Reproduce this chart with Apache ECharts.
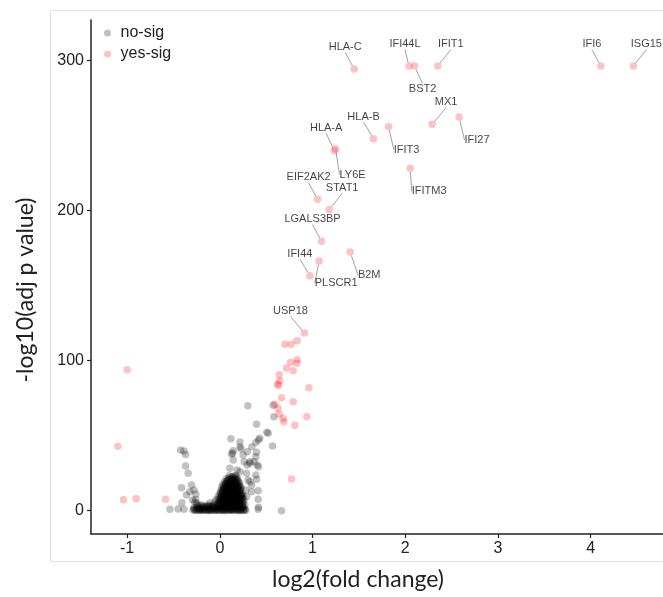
<!DOCTYPE html>
<html><head><meta charset="utf-8">
<script src="https://cdn.jsdelivr.net/npm/echarts@6/dist/echarts.min.js"></script>
<style>html,body{margin:0;padding:0;background:#fff}#c{width:663px;height:597px}</style>
</head><body><div id="c"></div>
<script>
// ---- data ----
const xTicks = [-1, 0, 1, 2, 3, 4];
const yTicks = [0, 100, 200, 300];

const labeledGenes = ['HLA-C','IFI44L','BST2','IFIT1','IFI6','ISG15','MX1','IFI27','HLA-B','IFIT3','HLA-A','LY6E','IFITM3','EIF2AK2','STAT1','LGALS3BP','IFI44','PLSCR1','B2M','USP18'];
const labeledX = [1.449,2.04,2.10,2.35,4.11,4.46,2.29,2.58,1.658,1.82,1.233,1.248,2.053,1.054,1.179,1.097,0.971,1.071,1.406,0.913];
const labeledY = [294.1,296,296,296,296,296,257.3,262.1,247.7,255.7,239.7,241,228,207.3,200.4,179.4,156.5,166.2,172.2,118.3];

const sigOther = [
 [0.834,113.2],[0.769,110.8],[0.701,110.8],[0.834,100.5],[0.762,98.8],[0.831,98.1],[0.719,95.0],[0.791,93.2],
 [0.64,90.5],[0.647,86.6],[0.622,84.4],[0.633,83.5],[0.96,81.9],[0.665,75.2],[0.791,72.6],[0.593,70.8],
 [0.629,68.2],[0.64,64.2],[0.939,62.6],[0.683,61.5],[0.69,59.3],[0.809,56.9],[0.773,21.1],[-0.586,7.6],
 [-1.0,93.9],[-1.10,42.9],[-1.039,7.3],[-0.903,8.0]
];

const nonSigScatter = [
 [0.302,69.9],[0.575,70.2],[0.583,62.6],[0.396,57.5],[0.507,52.2],[0.521,51.5],[0.43,48.2],[0.568,43.1],
 [0.119,47.9],[0.216,45.7],[0.388,45.5],[0.417,47.1],[0.345,42.6],[0.216,42.6],[0.295,39.3],[0.227,41.3],
 [0.144,39.9],[0.137,38.2],[0.396,38.9],[0.388,36.0],[0.126,37.7],[0.251,37.1],[0.144,33.8],[0.262,32.6],
 [0.324,32.6],[0.37,32.6],[0.324,31.6],[0.403,30.4],[0.417,29.3],[0.295,30.4],[0.108,28.2],[0.187,27.1],
 [0.216,26.0],[0.288,24.9],[0.388,23.8],[0.18,22.6],[0.305,20.4],[0.396,20.9],[0.324,19.3],[0.342,17.1],
 [0.413,13.3],[0.342,12.7],[0.28,13.8],[0.288,9.3],[0.413,7.6],[0.417,2.3],[0.665,0],[0.413,0.9],
 [-0.424,40.4],[-0.388,39.7],[-0.37,37.5],[-0.37,29.8],[-0.342,24.9],[-0.305,17.1],[-0.413,15.3],[-0.36,10.5],
 [-0.41,5.3],[-0.539,1.0],[-0.45,1.1],[-0.388,1.0],[-0.324,12.7],[-0.28,13.8],[-0.259,11.1],[-0.295,7.1],[-0.25,4.9]
];

const nonSigCore = [
 [-0.29,0.4],[-0.27,0.8],[-0.25,0.3],[-0.23,0.6],[-0.21,0.2],[-0.19,0.9],[-0.17,0.5],[-0.15,0.3],[-0.13,0.7],[-0.11,0.4],
 [-0.09,0.8],[-0.07,0.2],[-0.05,0.6],[-0.03,0.9],[-0.01,0.3],[0.01,0.7],[0.03,0.4],[0.05,0.9],[0.07,0.5],[0.09,0.2],
 [0.11,0.8],[0.13,0.4],[0.15,0.6],[0.17,0.3],[0.19,0.9],[0.21,0.5],[0.23,0.7],[0.25,0.2],[0.27,0.6],
 [-0.28,1.9],[-0.25,2.3],[-0.22,1.6],[-0.19,2.1],[-0.16,1.8],[-0.13,2.4],[-0.10,1.7],[-0.07,2.2],[-0.04,1.9],[-0.01,2.5],
 [0.02,1.8],[0.05,2.3],[0.08,1.6],[0.11,2.2],[0.14,1.9],[0.17,2.4],[0.20,1.7],[0.23,2.1],[0.26,1.8],
 [-0.24,3.4],[-0.2,3.9],[-0.17,3.2],[-0.135,3.7],[-0.1,3.3],[-0.065,3.8],[-0.03,3.5],[0.0,4.0],[0.035,3.4],[0.07,3.9],
 [0.105,3.3],[0.14,3.8],[0.175,3.5],[0.21,3.9],[0.245,3.4],
 [-0.27,5.6],[-0.11,5.2],[-0.06,5.8],[-0.02,5.3],[0.01,5.9],[0.04,5.4],[0.07,5.7],[0.1,5.2],[0.13,5.8],[0.16,5.3],
 [0.19,5.9],[0.22,5.4],[0.25,5.7],
 [-0.26,7.4],[-0.04,7.3],[-0.01,7.8],[0.02,7.2],[0.05,7.7],[0.08,7.4],[0.11,7.9],[0.14,7.3],[0.17,7.8],[0.2,7.4],[0.23,7.6],[0.26,7.2],
 [-0.02,9.6],[0.01,9.3],[0.04,9.8],[0.07,9.4],[0.1,9.9],[0.13,9.5],[0.16,9.2],[0.19,9.7],[0.22,9.4],[0.25,9.9],
 [0.0,11.4],[0.03,11.8],[0.06,11.3],[0.09,11.7],[0.12,11.2],[0.15,11.6],[0.18,11.3],[0.21,11.8],[0.24,11.5],
 [0.01,13.3],[0.04,13.8],[0.07,13.4],[0.1,13.9],[0.13,13.5],[0.16,13.2],[0.19,13.7],[0.22,13.4],
 [0.02,15.6],[0.05,15.2],[0.08,15.7],[0.11,15.3],[0.14,15.8],[0.17,15.4],[0.2,15.6],[0.23,15.1],
 [0.03,17.4],[0.06,17.8],[0.09,17.3],[0.12,17.7],[0.15,17.2],[0.18,17.6],[0.21,17.4],
 [0.05,19.3],[0.08,19.8],[0.11,19.4],[0.14,19.7],[0.17,19.2],[0.2,19.6],
 [0.07,21.3],[0.1,21.8],[0.13,21.4],[0.16,21.7],[0.19,21.2],
 [0.1,23.2],[0.14,22.9],[0.17,23.4],
 [-0.2,1.2],[-0.12,1.1],[-0.04,1.3],[0.04,1.2],[0.12,1.0],[0.2,1.3],[0.0,3.0],[0.08,3.0],[0.16,2.9],[-0.08,2.9],
 [-0.26,0.1],[-0.22,0.4],[-0.18,0.1],[-0.14,0.5],[-0.1,0.1],[-0.06,0.4],[-0.02,0.1],[0.02,0.3],[0.06,0.1],[0.1,0.4],
 [0.14,0.1],[0.18,0.5],[0.22,0.1],[0.26,0.3],[-0.23,2.7],[-0.15,2.8],[-0.05,2.7],[0.03,2.6],[0.1,2.8],[0.18,2.6],[0.24,2.8],
 [-0.03,4.6],[0.02,4.7],[0.06,4.5],[0.09,4.8],[0.12,4.4],[0.15,4.7],[0.18,4.5],[0.21,4.8],[0.24,4.6],
 [0.0,6.6],[0.03,6.4],[0.06,6.7],[0.09,6.5],[0.12,6.6],[0.15,6.4],[0.18,6.7],[0.21,6.5],
 [0.0,8.6],[0.03,8.4],[0.06,8.7],[0.09,8.5],[0.12,8.6],[0.15,8.4],[0.18,8.7],[0.21,8.5],[0.24,8.6],
 [0.02,10.5],[0.05,10.6],[0.08,10.4],[0.11,10.7],[0.14,10.5],[0.17,10.6],[0.2,10.4],[0.23,10.6],
 [0.03,12.5],[0.06,12.6],[0.09,12.4],[0.12,12.7],[0.15,12.5],[0.18,12.6],[0.21,12.4],
 [0.04,14.5],[0.07,14.6],[0.1,14.4],[0.13,14.7],[0.16,14.5],[0.19,14.6],[0.22,14.4],
 [0.05,16.5],[0.08,16.6],[0.11,16.4],[0.14,16.7],[0.17,16.5],[0.2,16.4],
 [0.07,18.5],[0.1,18.6],[0.13,18.4],[0.16,18.7],[0.19,18.5],
 [0.09,20.5],[0.12,20.6],[0.15,20.4],[0.18,20.6],
 [-0.28,1.0],[-0.24,1.4],[-0.2,0.6],[-0.16,1.3],[-0.12,0.2],[-0.08,1.5],[-0.04,0.5],[0.0,1.4],[0.04,0.2],[0.08,1.3],
 [0.12,0.6],[0.16,1.5],[0.2,0.2],[0.24,1.4],[0.28,0.3],[-0.21,3.1],[-0.18,2.5],[-0.12,3.0],[-0.09,2.4],[-0.02,3.2],
 [0.02,3.8],[0.05,3.1],[0.09,3.6],[0.13,2.7],[0.17,3.3],[0.21,2.9],[0.25,2.5],[0.27,3.8],
 [-0.01,5.0],[0.03,5.2],[0.06,6.1],[0.09,5.4],[0.12,6.0],[0.15,5.1],[0.18,6.2],[0.21,5.6],[0.24,6.3],
 [0.01,7.0],[0.04,8.0],[0.07,7.1],[0.1,8.1],[0.13,7.0],[0.16,8.0],[0.19,7.1],[0.22,8.1],[0.25,8.3],
 [0.02,9.0],[0.05,10.0],[0.08,9.1],[0.11,10.1],[0.14,9.0],[0.17,10.0],[0.2,9.1],[0.23,10.2],
 [0.01,12.0],[0.04,11.0],[0.07,12.1],[0.1,11.0],[0.13,12.0],[0.16,11.1],[0.19,12.1],[0.22,11.0],
 [0.03,14.0],[0.06,13.1],[0.09,14.1],[0.12,13.0],[0.15,14.0],[0.18,13.1],[0.21,14.1],
 [0.04,16.0],[0.07,15.1],[0.1,16.1],[0.13,15.0],[0.16,16.0],[0.19,15.1],[0.22,16.2],
 [0.06,18.0],[0.09,17.1],[0.12,18.1],[0.15,17.0],[0.18,18.0],[0.21,18.8],
 [0.08,20.0],[0.11,21.0],[0.14,20.1],[0.17,21.0],[0.12,22.3],[0.15,22.5]
];

// ---- label placement (pixel offsets from point, style only) ----
const labelOffsets = {
 'HLA-C':[-9,-22],'IFI44L':[-4,-22],'BST2':[8,23],'IFIT1':[13,-22],'IFI6':[-9,-22],'ISG15':[13,-22],
 'MX1':[14,-22],'IFI27':[18,23],'HLA-B':[-10,-22],'IFIT3':[18,23],'HLA-A':[-8,-23],'LY6E':[17,26],
 'IFITM3':[19,23],'EIF2AK2':[-9,-22],'STAT1':[13,-22],'LGALS3BP':[-9,-22],'IFI44':[-10,-22],
 'PLSCR1':[17,22],'B2M':[19,23],'USP18':[-14,-22]
};

const sigData = labeledGenes.map((g, i) => ({name: g, value: [labeledX[i], labeledY[i]], label: {show: true}}))
  .concat(sigOther.map(p => ({name: '', value: p})));
const nonSigData = nonSigCore.concat(nonSigScatter);

const chart = echarts.init(document.getElementById('c'), null, {renderer: 'canvas'});
const axisColor = '#222';
const greyCol = 'rgba(0,0,0,0.3)';
const redCol = 'rgba(255,0,0,0.3)';
chart.setOption({
  animation: false,
  backgroundColor: '#fff',
  grid: {left: 91, right: 0, top: 20, bottom: 63, containLabel: false},
  legend: {
    orient: 'vertical', left: 99, top: 20, itemWidth: 16, itemHeight: 7, itemGap: 5,
    icon: 'circle',
    textStyle: {fontSize: 16, color: '#222', fontFamily: 'Liberation Sans', lineHeight: 16},
    data: [
      {name: 'no-sig', itemStyle: {color: greyCol}},
      {name: 'yes-sig', itemStyle: {color: redCol}}
    ]
  },
  xAxis: {
    type: 'value', min: -1.39, max: 4.78,
    splitLine: {show: false},
    axisLine: {onZero: false, lineStyle: {color: axisColor, width: 1.5}},
    axisTick: {customValues: xTicks, length: 4, lineStyle: {color: axisColor, width: 1.2}},
    axisLabel: {customValues: xTicks, fontSize: 16, color: '#222', fontFamily: 'Liberation Sans', margin: 7}
  },
  yAxis: {
    type: 'value', min: -15.5, max: 326.7,
    splitLine: {show: false},
    axisLine: {onZero: false, lineStyle: {color: axisColor, width: 1.5}},
    axisTick: {customValues: yTicks, length: 4, lineStyle: {color: axisColor, width: 1.2}},
    axisLabel: {customValues: yTicks, fontSize: 16, color: '#222', fontFamily: 'Liberation Sans', margin: 7}
  },
  graphic: [
    {type: 'rect', z: -10, silent: true, shape: {x: 50.5, y: 10.5, width: 700, height: 551},
     style: {fill: 'none', stroke: '#e2e2e2', lineWidth: 1}},
    {type: 'text', silent: true, x: 358, y: 580,
     style: {text: 'log2(fold change)', font: '23px Lato', fill: '#222', align: 'center', verticalAlign: 'middle'}},
    {type: 'text', silent: true, x: 26, y: 290, rotation: Math.PI / 2,
     style: {text: '-log10(adj p value)', font: '23px Lato', fill: '#222', align: 'center', verticalAlign: 'middle'}}
  ],
  series: [
    {
      name: 'no-sig', type: 'scatter', symbolSize: 7.5,
      itemStyle: {color: greyCol},
      data: nonSigData
    },
    {
      name: 'yes-sig', type: 'scatter', symbolSize: 7.5,
      itemStyle: {color: redCol},
      label: {show: false, position: 'inside', formatter: '{b}', fontSize: 11, color: '#111', fontFamily: 'Liberation Sans'},
      labelLine: {show: true, lineStyle: {color: '#888', width: 0.8}},
      labelLayout: function (p) {
        const g = labeledGenes[p.dataIndex];
        const o = g ? labelOffsets[g] : null;
        return o ? {dx: o[0], dy: o[1], hideOverlap: false} : {};
      },
      data: sigData
    }
  ]
});
</script>
</body></html>
